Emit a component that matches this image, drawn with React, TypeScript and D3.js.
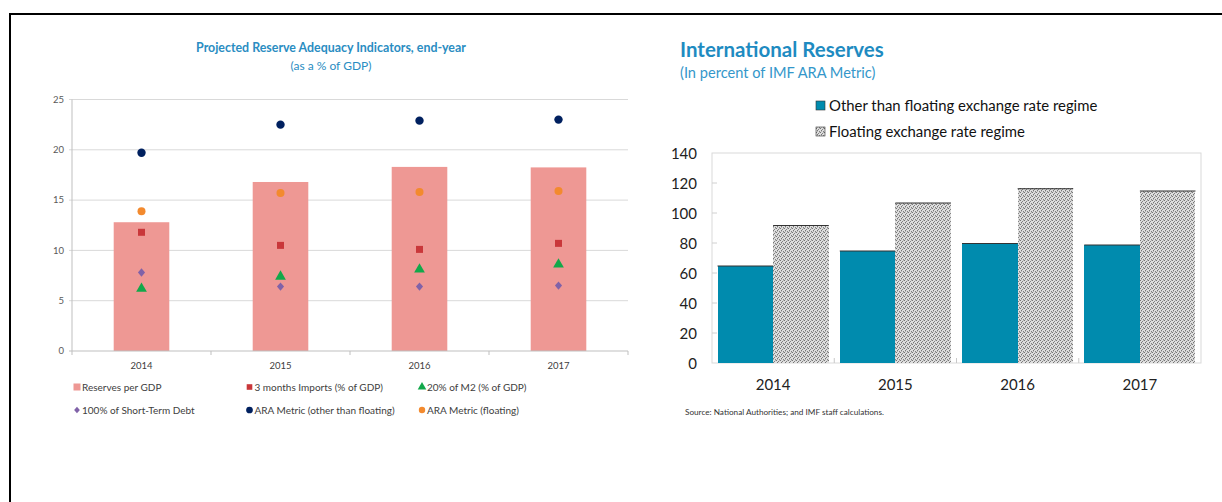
import React from "react";
import * as d3 from "d3";

const years = ["2014", "2015", "2016", "2017"];
const reservesPerGDP = [12.8, 16.8, 18.3, 18.25];
const monthsImports = [11.8, 10.5, 10.1, 10.7];
const m2Share = [6.2, 7.4, 8.1, 8.6];
const shortTermDebt = [7.8, 6.4, 6.4, 6.5];
const araOther = [19.7, 22.5, 22.9, 23.0];
const araFloating = [13.9, 15.7, 15.8, 15.9];
const leftTicks = [0, 5, 10, 15, 20, 25];

const otherThanFloating = [65, 75, 80, 79];
const floating = [92, 107, 116.5, 115];
const rightTicks = [0, 20, 40, 60, 80, 100, 120, 140];
const rightSeries = ["Other than floating exchange rate regime", "Floating exchange rate regime"];

const FONT = "Lato, 'Open Sans', sans-serif";

const C = {
  bar: "#EE9894",
  imports: "#C9373A",
  m2: "#12A84A",
  debt: "#8062A8",
  araOther: "#00205F",
  araFloat: "#F38A2E",
  teal: "#008BAE",
  title: "#2A8DC2",
};

function marker(kind: string, cx: number, cy: number, key: string, s = 1) {
  if (kind === "square")
    return <rect key={key} x={cx - 3.5 * s} y={cy - 3.5 * s} width={7 * s} height={7 * s} fill={C.imports} />;
  if (kind === "triangle") {
    const p = d3.symbol(d3.symbolTriangle, 50 * s * s)();
    return <path key={key} d={p || ""} transform={`translate(${cx},${cy})`} fill={C.m2} />;
  }
  if (kind === "diamond") {
    const h = 4.2 * s;
    return <path key={key} d={`M${cx},${cy - h}L${cx + h * 0.85},${cy}L${cx},${cy + h}L${cx - h * 0.85},${cy}Z`} fill={C.debt} />;
  }
  if (kind === "circleOther") return <circle key={key} cx={cx} cy={cy} r={4.2 * s} fill={C.araOther} />;
  return <circle key={key} cx={cx} cy={cy} r={4 * s} fill={C.araFloat} />;
}

function LeftChart() {
  const x = d3.scaleBand<string>().domain(years).range([72, 628]).paddingInner(0.6).paddingOuter(0.3);
  const y = d3.scaleLinear().domain([0, 25]).range([351, 99.5]);
  const cx = (yr: string) => (x(yr) as number) + x.bandwidth() / 2;
  const step = x.step();
  const boundaries = d3.range(years.length + 1).map((i) => 72 + i * step);

  const pointSeries = [
    { kind: "square", vals: monthsImports },
    { kind: "triangle", vals: m2Share },
    { kind: "diamond", vals: shortTermDebt },
    { kind: "circleOther", vals: araOther },
    { kind: "circleFloat", vals: araFloating },
  ];

  const legend = [
    { kind: "bar", label: "Reserves per GDP" },
    { kind: "square", label: "3 months Imports (% of GDP)" },
    { kind: "triangle", label: "20% of M2 (% of GDP)" },
    { kind: "diamond", label: "100% of Short-Term Debt" },
    { kind: "circleOther", label: "ARA Metric (other than floating)" },
    { kind: "circleFloat", label: "ARA Metric (floating)" },
  ];

  return (
    <g>
      <text x={331} y={52} textAnchor="middle" fontFamily={FONT} fontWeight={700} fontSize={12.4} fill={C.title}>
        Projected Reserve Adequacy Indicators, end-year
      </text>
      <text x={331} y={70} textAnchor="middle" fontFamily={FONT} fontSize={12} fill={C.title}>
        (as a % of GDP)
      </text>
      {leftTicks.map((t) => (
        <g key={t}>
          {t > 0 && <line x1={69} x2={628} y1={y(t)} y2={y(t)} stroke="#D9D9D9" strokeWidth={1} />}
          <text x={64} y={y(t) + 3.3} textAnchor="end" fontFamily={FONT} fontSize={9.5} fill="#595959">
            {t}
          </text>
        </g>
      ))}
      <line x1={72} x2={72} y1={y(25)} y2={y(0)} stroke="#BFBFBF" />
      {reservesPerGDP.map((v, i) => (
        <rect key={i} x={x(years[i])} y={y(v)} width={x.bandwidth()} height={y(0) - y(v)} fill={C.bar} />
      ))}
      <line x1={69} x2={628} y1={y(0)} y2={y(0)} stroke="#BFBFBF" />
      {boundaries.map((b, i) => (
        <line key={i} x1={b} x2={b} y1={y(0)} y2={y(0) + 4} stroke="#BFBFBF" />
      ))}
      {years.map((yr) => (
        <text key={yr} x={cx(yr)} y={369} textAnchor="middle" fontFamily={FONT} fontSize={9.5} fill="#404040">
          {yr}
        </text>
      ))}
      {pointSeries.map((s) => s.vals.map((v, i) => marker(s.kind, cx(years[i]), y(v), s.kind + i)))}
      {legend.map((l, i) => {
        const col = i % 3;
        const row = Math.floor(i / 3);
        const mx = 77 + col * 172.5;
        const my = 387 + row * 23;
        return (
          <g key={l.label}>
            {l.kind === "bar" ? (
              <rect x={mx - 3.5} y={my - 3.5} width={7} height={7} fill={C.bar} />
            ) : (
              marker(l.kind, mx, my, "lg" + i, 0.8)
            )}
            <text x={mx + 5} y={my + 3.5} fontFamily={FONT} fontSize={10} fill="#404040">
              {l.label}
            </text>
          </g>
        );
      })}
    </g>
  );
}

function RightChart() {
  const x0 = d3.scaleBand<string>().domain(years).range([712, 1201]).paddingInner(0.09).paddingOuter(0.045);
  const x1 = d3.scaleBand<string>().domain(rightSeries).range([0, x0.bandwidth()]);
  const y = d3.scaleLinear().domain([0, 140]).range([363, 153]);
  const step = x0.step();
  const boundaries = d3.range(1, years.length).map((i) => 712 + i * step);
  const seriesVals = [otherThanFloating, floating];
  const fills = [C.teal, "url(#stipple)"];

  return (
    <g>
      <defs>
        <pattern id="stipple" width={4} height={4} patternUnits="userSpaceOnUse">
          <rect width={4} height={4} fill="#DEDEDE" />
          <rect x={0} y={0} width={1} height={1} fill="#767676" />
          <rect x={2} y={1} width={1} height={1} fill="#828282" />
          <rect x={1} y={2} width={1} height={1} fill="#767676" />
          <rect x={3} y={3} width={1} height={1} fill="#828282" />
          <rect x={3} y={0} width={1} height={1} fill="#B4B4B4" />
          <rect x={1} y={3} width={1} height={1} fill="#B4B4B4" />
        </pattern>
      </defs>
      <text x={680} y={57} fontFamily={FONT} fontWeight={700} fontSize={20.5} fill="#1E8BC1">
        International Reserves
      </text>
      <text x={680} y={78} fontFamily={FONT} fontSize={14.6} fill="#3497CA">
        (In percent of IMF ARA Metric)
      </text>
      {rightSeries.map((s, i) => (
        <g key={s}>
          <rect x={816} y={101 + i * 26} width={9} height={9} fill={fills[i]} stroke="#333" strokeWidth={0.6} />
          <text x={829} y={111 + i * 26} fontFamily={FONT} fontSize={14.9} fill="#111">
            {s}
          </text>
        </g>
      ))}
      <rect x={712} y={153} width={489} height={210} fill="none" stroke="#D9D9D9" />
      {rightTicks.map((t) => (
        <g key={t}>
          {t > 0 && t < 140 && <line x1={712} x2={717} y1={y(t)} y2={y(t)} stroke="#D0D0D0" />}
          <text x={697} y={y(t) + 5.5} textAnchor="end" fontFamily={FONT} fontSize={15} fill="#222">
            {t}
          </text>
        </g>
      ))}
      {boundaries.map((b, i) => (
        <line key={i} x1={b} x2={b} y1={y(0)} y2={y(0) - 5} stroke="#C8C8C8" />
      ))}
      {years.map((yr, i) => (
        <g key={yr}>
          {rightSeries.map((s, j) => {
            const bx = (x0(yr) as number) + (x1(s) as number);
            const v = seriesVals[j][i];
            return (
              <g key={s}>
                <rect x={bx} y={y(v)} width={x1.bandwidth()} height={y(0) - y(v)} fill={fills[j]} shapeRendering="crispEdges" />
                <line x1={bx} x2={bx + x1.bandwidth()} y1={y(v) + 0.5} y2={y(v) + 0.5} stroke="#333" strokeWidth={1} />
              </g>
            );
          })}
          <text x={(x0(yr) as number) + x0.bandwidth() / 2} y={390} textAnchor="middle" fontFamily={FONT} fontSize={15} fill="#222">
            {yr}
          </text>
        </g>
      ))}
      <text x={685} y={415} fontFamily={FONT} fontSize={8.2} fill="#333">
        Source: National Authorities; and IMF staff calculations.
      </text>
    </g>
  );
}

export default function App() {
  return (
    <svg width={1222} height={502} style={{ position: "absolute", left: 0, top: 0, background: "#fff" }}>
      <rect width={1222} height={502} fill="#fff" />
      <line x1={9} x2={1222} y1={14} y2={14} stroke="#000" strokeWidth={2} />
      <line x1={10} x2={10} y1={13} y2={502} stroke="#000" strokeWidth={2} />
      <LeftChart />
      <RightChart />
    </svg>
  );
}
